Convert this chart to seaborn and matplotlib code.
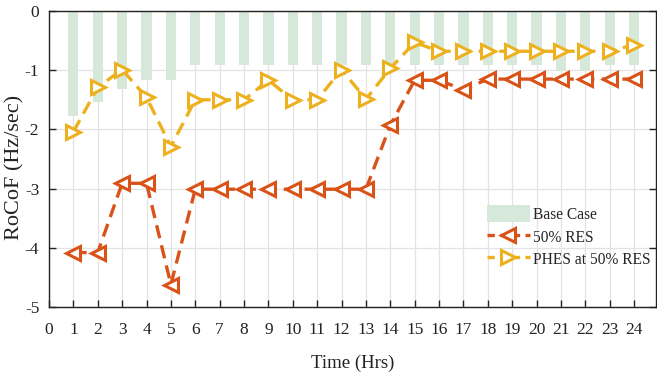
import numpy as np
import pandas as pd
import matplotlib
matplotlib.use("Agg")
import matplotlib.pyplot as plt
import seaborn as sns
from matplotlib.patches import Patch
from matplotlib.lines import Line2D

hours = list(range(1, 25))
base_case = [-1.77, -1.53, -1.32, -1.17, -1.17, -0.92, -0.92, -0.92, -0.92, -0.92,
             -0.92, -0.92, -0.92, -0.92, -0.92, -0.92, -0.92, -0.92, -0.92, -0.92,
             -1.02, -1.02, -0.92, -0.92]
res50 = [-4.08, -4.08, -2.91, -2.91, -4.62, -3.01, -3.01, -3.01, -3.01, -3.01,
         -3.01, -3.01, -3.01, -1.93, -1.17, -1.17, -1.33, -1.15, -1.15, -1.15,
         -1.15, -1.15, -1.15, -1.15]
phes = [-2.04, -1.29, -0.99, -1.46, -2.29, -1.50, -1.50, -1.50, -1.17, -1.50,
        -1.50, -0.99, -1.49, -0.97, -0.53, -0.68, -0.68, -0.68, -0.68, -0.68,
        -0.68, -0.68, -0.68, -0.57]
xticks = list(range(0, 25))
yticks = [0, -1, -2, -3, -4, -5]

sns.set_theme(style="white")
plt.rcParams['font.family'] = ['Liberation Serif', 'DejaVu Serif']

c_bar = "#d5e8da"
c_res = "#D95319"
c_phes = "#EDB120"
dash = [4, 2.2]

fig = plt.figure(figsize=(6.57, 3.76), dpi=100)
ax = fig.add_axes([49/657, 69/376, 607/657, 296/376])

df = pd.DataFrame({"hour": hours, "base": base_case, "res": res50, "phes": phes})

sns.barplot(data=df, x="hour", y="base", native_scale=True, color=c_bar,
            width=0.42, saturation=1, ax=ax, zorder=1, edgecolor="none")
sns.lineplot(data=df, x="hour", y="res", ax=ax, color=c_res, lw=2.4,
             marker="<", markersize=10, markeredgewidth=2.2,
             markerfacecolor="white", markeredgecolor=c_res, zorder=3)
sns.lineplot(data=df, x="hour", y="phes", ax=ax, color=c_phes, lw=2.4,
             marker=">", markersize=10, markeredgewidth=2.2,
             markerfacecolor="white", markeredgecolor=c_phes, zorder=4)
for ln in ax.get_lines():
    ln.set_dashes(dash)

ax.set_xlim(0, 24.9)
ax.set_ylim(-5, 0)
ax.set_xticks(xticks)
ax.set_yticks(yticks)
ax.set_xticklabels([str(t) for t in xticks])
ax.set_yticklabels([str(t) for t in yticks])
ax.grid(True, color="#e3e3e3", lw=0.9, zorder=0)
ax.set_axisbelow(True)
for s in ax.spines.values():
    s.set_color("#222222")
    s.set_linewidth(1.0)
ax.tick_params(axis="both", direction="in", length=5, width=1, labelsize=12.5,
               colors="#222222", bottom=True, left=True, right=True, top=False)
ax.tick_params(axis="x", pad=11)
ax.tick_params(axis="y", pad=7)
ax.set_xlabel("Time (Hrs)", fontsize=13.5, color="#222222", labelpad=12)
ax.set_ylabel("RoCoF (Hz/sec)", fontsize=16, color="#222222")
ax.yaxis.set_label_coords(-0.041, 0.473)

handles = [
    Patch(facecolor=c_bar, edgecolor="none"),
    Line2D([], [], color=c_res, lw=2.4, dashes=[2.2, 1.6], marker="<", markersize=10,
           markeredgewidth=2.2, markerfacecolor="white", markeredgecolor=c_res),
    Line2D([], [], color=c_phes, lw=2.4, dashes=[2.2, 1.6], marker=">", markersize=10,
           markeredgewidth=2.2, markerfacecolor="white", markeredgecolor=c_phes),
]
leg = ax.legend(handles, ["Base Case", "50% RES", "PHES at 50% RES"],
                loc="upper left", bbox_to_anchor=(487/657, 1 - 205/376),
                bbox_transform=fig.transFigure, frameon=False, fontsize=11.2,
                handlelength=2.75, handleheight=1.35, handletextpad=0.2,
                labelspacing=0.3, borderpad=0, borderaxespad=0)

fig.savefig("out.png", dpi=100)
